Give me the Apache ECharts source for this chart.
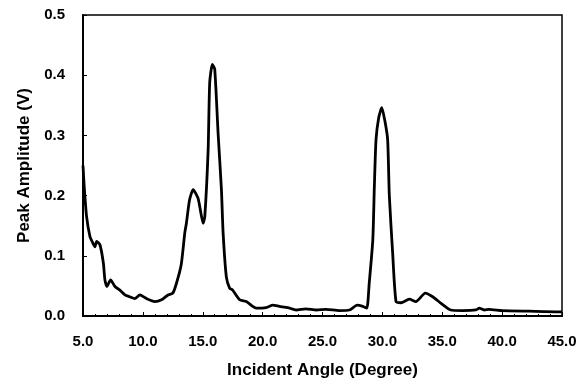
<!DOCTYPE html>
<html>
<head>
<meta charset="utf-8">
<script src="https://cdn.jsdelivr.net/npm/echarts@6/dist/echarts.min.js"></script>
<style>html,body{margin:0;padding:0;background:#fff;}#c{width:585px;height:381px;}</style>
</head>
<body>
<div id="c"></div>
<script>
const angles = [5.0,5.1,5.3,5.58,5.8,6.0,6.14,6.42,6.7,6.83,7.0,7.3,7.67,8.08,8.5,8.9,9.33,9.75,10.3,11.0,11.56,12.1,12.5,12.8,13.2,13.5,13.64,13.9,14.2,14.6,14.75,15.03,15.17,15.45,15.58,15.8,16.0,16.28,16.56,16.7,16.97,17.25,17.5,18.08,18.64,19.47,20.3,20.86,21.4,22.1,22.8,23.6,24.5,25.3,26.4,27.25,27.9,28.36,28.7,28.9,29.2,29.33,29.47,29.7,29.95,30.2,30.44,30.58,30.86,31.14,31.56,32.25,32.8,33.58,34.2,34.9,35.7,36.7,37.8,38.1,38.5,38.9,40.0,42.25,44.75,45.0];
const amplitudes = [0.25,0.215,0.165,0.132,0.122,0.115,0.124,0.118,0.088,0.06,0.049,0.06,0.049,0.043,0.035,0.032,0.029,0.035,0.029,0.024,0.027,0.035,0.038,0.054,0.085,0.138,0.155,0.193,0.21,0.196,0.182,0.154,0.165,0.276,0.387,0.418,0.41,0.304,0.21,0.138,0.065,0.046,0.043,0.027,0.024,0.013,0.014,0.018,0.016,0.014,0.01,0.012,0.01,0.011,0.009,0.01,0.018,0.016,0.013,0.054,0.126,0.215,0.293,0.33,0.346,0.325,0.293,0.2,0.104,0.024,0.022,0.028,0.024,0.038,0.032,0.021,0.01,0.009,0.01,0.013,0.01,0.011,0.009,0.008,0.007,0.007];
const xTicks = ['5.0','10.0','15.0','20.0','25.0','30.0','35.0','40.0','45.0'];
const yTicks = ['0.0','0.1','0.2','0.3','0.4','0.5'];
const xName = 'Incident Angle (Degree)';
const yName = 'Peak Amplitude (V)';

const data = angles.map((a, i) => [a, amplitudes[i]]);
const font = '"Liberation Sans", Arial, sans-serif';
const chart = echarts.init(document.getElementById('c'));
chart.setOption({
  animation: false,
  backgroundColor: '#fff',
  grid: { left: 83, right: 23, top: 15, bottom: 65, show: true, borderColor: '#000', borderWidth: 1.5,
    containLabel: false, outerBoundsMode: 'none' },
  xAxis: {
    type: 'value', min: 5, max: 45, interval: 5,
    name: xName, nameLocation: 'middle', nameGap: 46,
    nameTextStyle: { fontFamily: font, fontWeight: 'bold', fontSize: 17, color: '#000' },
    axisLine: { show: true, lineStyle: { color: '#000', width: 2 } },
    axisTick: { show: true, inside: true, length: 4, lineStyle: { color: '#000', width: 1 } },
    minorTick: { show: true, splitNumber: 5, length: 2, lineStyle: { color: '#000', width: 1 } },
    axisLabel: { color: '#000', fontFamily: font, fontWeight: 'bold', fontSize: 15, margin: 18,
      formatter: (v) => xTicks[Math.round((v - 5) / 5)] },
    splitLine: { show: false }
  },
  yAxis: {
    type: 'value', min: 0, max: 0.5, interval: 0.1,
    name: yName, nameLocation: 'middle', nameGap: 47,
    nameTextStyle: { fontFamily: font, fontWeight: 'bold', fontSize: 17, color: '#000' },
    axisLine: { show: true, lineStyle: { color: '#000', width: 2 } },
    axisTick: { show: true, inside: true, length: 4, lineStyle: { color: '#000', width: 1 } },
    axisLabel: { color: '#000', fontFamily: font, fontWeight: 'bold', fontSize: 15, margin: 18,
      formatter: (v) => yTicks[Math.round(v * 10)] },
    splitLine: { show: false }
  },
  series: [{
    type: 'line', data: data, showSymbol: false, smooth: 0.2,
    lineStyle: { color: '#000', width: 2.8 }
  }]
});
</script>
</body>
</html>
